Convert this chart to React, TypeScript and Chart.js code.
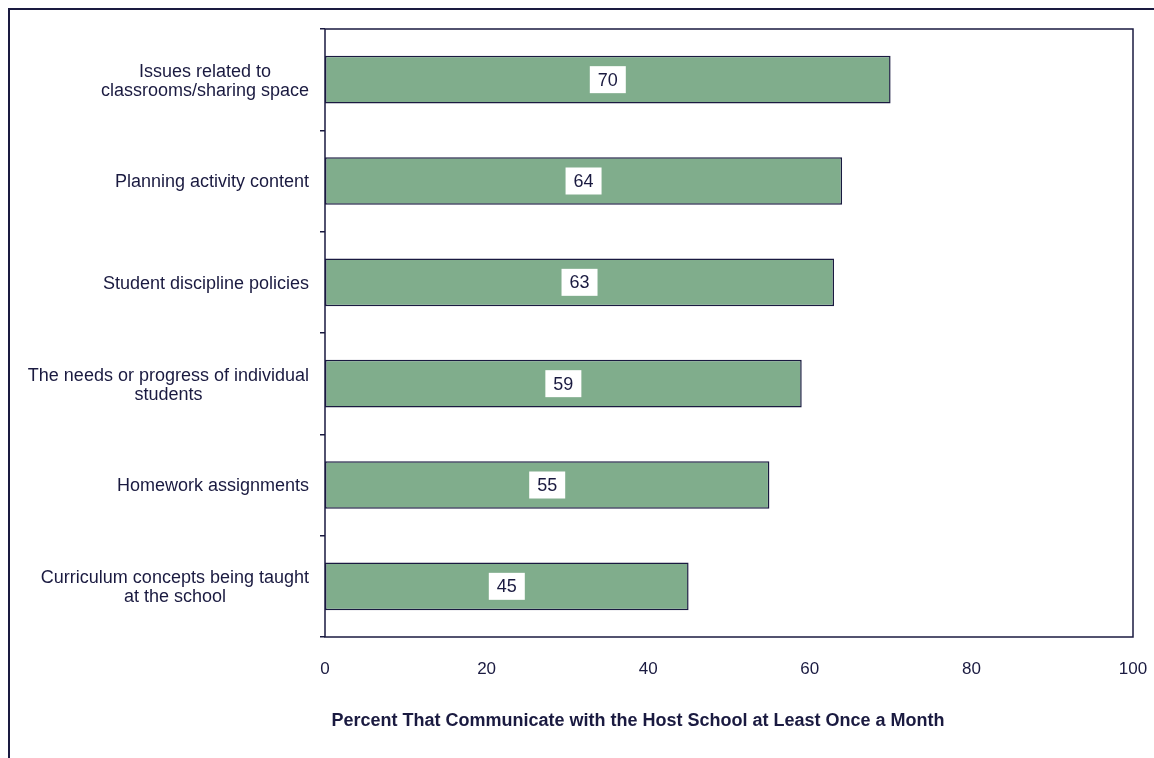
import React, { useEffect, useRef } from 'react';
import { Chart, registerables } from 'chart.js';

Chart.register(...registerables);

const categories: string[][] = [
  ['Issues related to', 'classrooms/sharing space'],
  ['Planning activity content'],
  ['Student discipline policies'],
  ['The needs or progress of individual', 'students'],
  ['Homework assignments'],
  ['Curriculum concepts being taught', 'at the school'],
];
const values: number[] = [70, 64, 63, 59, 55, 45];
const xMin = 0;
const xMax = 100;
const xStep = 20;
const xTitle = 'Percent That Communicate with the Host School at Least Once a Month';

const INK = '#1a1a40';
const BAR = '#80ad8c';
const FONT = '"Liberation Sans", Arial, sans-serif';

const W = 1160;
const H = 760;

export default function App() {
  const ref = useRef<HTMLCanvasElement | null>(null);

  useEffect(() => {
    if (!ref.current) return;

    const decor = {
      id: 'decor',
      afterDraw(chart: any) {
        const { ctx, chartArea } = chart;
        const ys = chart.scales.y;
        ctx.save();
        // plot frame
        ctx.strokeStyle = INK;
        ctx.lineWidth = 1.5;
        ctx.strokeRect(chartArea.left, chartArea.top, chartArea.right - chartArea.left, chartArea.bottom - chartArea.top);

        // category labels (right-aligned block, centered lines)
        ctx.font = '18px ' + FONT;
        ctx.fillStyle = INK;
        ctx.textBaseline = 'middle';
        ctx.textAlign = 'center';
        const lh = 19;
        categories.forEach((lines, i) => {
          const cy = ys.getPixelForValue(i) + 1.5;
          const maxW = Math.max(...lines.map((l) => ctx.measureText(l).width));
          const cx = chartArea.left - 16 - maxW / 2;
          lines.forEach((l, j) => {
            ctx.fillText(l, cx, cy + (j - (lines.length - 1) / 2) * lh);
          });
        });

        // value labels
        const meta = chart.getDatasetMeta(0);
        meta.data.forEach((bar: any, i: number) => {
          const cx = (bar.x + bar.base) / 2;
          const cy = bar.y;
          ctx.fillStyle = '#ffffff';
          ctx.fillRect(cx - 18, cy - 13.5, 36, 27);
          ctx.fillStyle = INK;
          ctx.fillText(String(values[i]), cx, cy + 1);
        });

        // axis title
        ctx.font = 'bold 18px ' + FONT;
        ctx.fillText(xTitle, chartArea.left + 313, chartArea.bottom + 84);
        ctx.restore();
      },
    };

    const chart = new Chart(ref.current, {
      type: 'bar',
      data: {
        labels: categories.map((c) => c.join(' ')),
        datasets: [
          {
            data: values,
            backgroundColor: BAR,
            borderColor: INK,
            borderWidth: 1.5,
            borderSkipped: false,
            categoryPercentage: 1,
            barPercentage: 0.47,
          },
        ],
      },
      options: {
        indexAxis: 'y',
        responsive: false,
        animation: false,
        devicePixelRatio: 1,
        layout: { padding: { top: 19, right: 37, left: 0, bottom: 0 } },
        plugins: {
          legend: { display: false },
          tooltip: { enabled: false },
          title: { display: false },
        },
        scales: {
          x: {
            type: 'linear',
            min: xMin,
            max: xMax,
            ticks: {
              stepSize: xStep,
              color: INK,
              font: { size: 17, family: FONT },
              padding: 22,
            },
            grid: { display: false, drawTicks: false },
            border: { display: false },
            afterFit(scale: any) {
              scale.height = 133;
            },
          },
          y: {
            type: 'category',
            ticks: { display: false },
            grid: {
              display: true,
              drawOnChartArea: false,
              drawTicks: true,
              tickLength: 5,
              color: INK,
              lineWidth: 1.5,
              offset: true,
            },
            border: { display: false },
            afterFit(scale: any) {
              scale.width = 315;
            },
          },
        },
      },
      plugins: [decor],
    });

    return () => chart.destroy();
  }, []);

  return (
    <div style={{ position: 'fixed', left: 0, top: 0, width: '100vw', height: '100vh', overflow: 'hidden', background: '#fff' }}>
      <div
        style={{
          position: 'absolute',
          left: 8,
          top: 8,
          borderLeft: '2px solid ' + INK,
          borderTop: '2px solid ' + INK,
          width: W,
          height: H,
        }}
      >
        <canvas ref={ref} width={W} height={H} style={{ display: 'block', width: W, height: H }} />
      </div>
    </div>
  );
}
